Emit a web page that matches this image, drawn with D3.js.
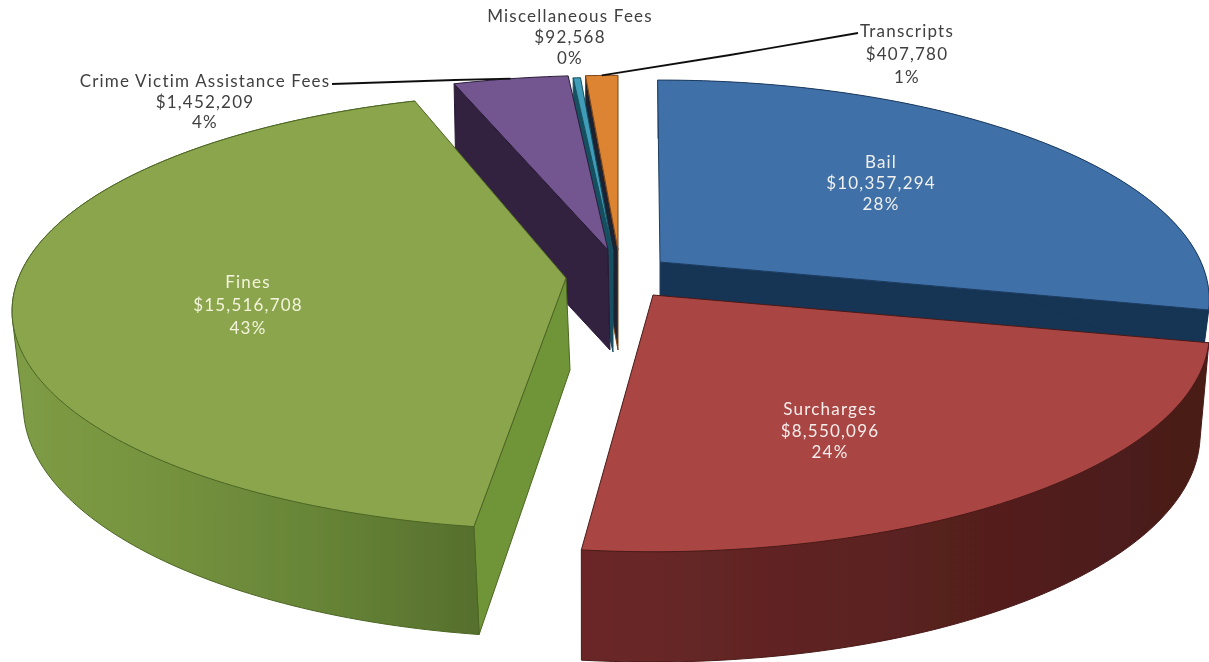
<!DOCTYPE html>
<html><head><meta charset="utf-8">
<script src="https://cdn.jsdelivr.net/npm/d3@7"></script>
<style>html,body{margin:0;padding:0;background:#fff;overflow:hidden}svg{display:block}</style>
</head><body><svg id="c" width="1209" height="662"></svg>
<script>
const categories = ["Bail","Surcharges","Fines","Crime Victim Assistance Fees","Miscellaneous Fees","Transcripts"];
const values = [10357294,8550096,15516708,1452209,92568,407780];

const W=1209,H=662,Rx=541,Ry=213.4;
const deg=Math.PI/180;
const geom = [
 {cx:660,cy:262,p:.173,sx:1,sy:1,depth:62,bx:.985,by:1.02,bdx:0,da0:-.3,da1:0,face:"end",top:"#4070a8",cut:"#183454",wall:"#183454",edge:"#1c3c60"},
 {cx:653,cy:295,p:.173,sx:1.013,sy:.995,depth:100,bx:.985,by:1.04,bdx:-1,da0:0,da1:-.9,face:null,top:"#a94543",cut:"#5e2322",wall:"url(#gRed)",edge:"#4a1a18"},
 {cx:566,cy:278,p:.152,sx:1.012,sy:1,depth:92,bx:.987,by:1.064,bdx:4,da0:1.1,da1:.9,face:"start",top:"#8ba54e",cut:"#6f9438",wall:"url(#gGreen)",edge:"#4c6623"},
 {cx:608,cy:250,p:.173,sx:1,sy:.96,depth:100,bx:1,by:1,bdx:2,da0:0,da1:0,face:"start",top:"#73548f",cut:"#30203f",wall:null,edge:"#2a1c38"},
 {cx:613,cy:252,p:.173,sx:1,sy:.96,depth:100,bx:1,by:1,bdx:0,da0:0,da1:0,face:"start",top:"#3f9cb8",cut:"#17505f",wall:null,edge:"#17505f"},
 {cx:618,cy:250,p:.173,sx:1,sy:.96,depth:100,bx:1,by:1,bdx:0,da0:0,da1:0,face:"start",top:"#dc8433",cut:"#1f2230",wall:null,edge:"#7a4416"}
];
const labelPos = [
 {x:881,y:163,c:"#f0f0ee",step:21},{x:830,y:410,c:"#f6eeec",step:21.5},{x:248,y:283,c:"#f4f4dc",step:23},
 {x:205,y:82,c:"#404040",step:20.5},{x:570,y:17,c:"#404040",step:21},{x:907,y:32,c:"#404040",step:23}
];
const drawOrder=[5,4,3,0,1,2];
const total=d3.sum(values);
const arcs=d3.pie().sort(null).value(d=>d)(values);

function proj(a,g,bottom){
  const X=Math.sin(a),Y=-Math.cos(a),w=1/(1-g.p*Y);
  return [g.cx+(bottom?g.bdx:0)+X*Rx*g.sx*w*(bottom?g.bx:1),
          g.cy+(bottom?g.depth:0)+Y*Ry*g.sy*w*(bottom?g.by:1)];
}
function rim(arc,g,bottom){
  const a0=arc.startAngle+g.da0*deg,a1=arc.endAngle+g.da1*deg;
  const n=Math.max(2,Math.ceil((a1-a0)*60));
  return d3.range(n+1).map(i=>proj(a0+(a1-a0)*i/n,g,bottom));
}
const line=d3.line();
const svg=d3.select("#c");
const defs=svg.append("defs");
defs.append("filter").attr("id","soft").attr("x",0).attr("y",0).attr("width",1).attr("height",1)
  .attr("filterUnits","objectBoundingBox")
  .append("feGaussianBlur").attr("stdDeviation",.55);
function grad(id,x1,x2,stops){
  const g=defs.append("linearGradient").attr("id",id).attr("gradientUnits","userSpaceOnUse")
    .attr("x1",x1).attr("x2",x2).attr("y1",0).attr("y2",0);
  stops.forEach(s=>g.append("stop").attr("offset",s[0]).attr("stop-color",s[1]));
}
grad("gGreen",10,480,[[0,"#7f9c45"],[.3,"#76933f"],[.65,"#678537"],[1,"#566f2d"]]);
grad("gRed",580,1209,[[0,"#6b2828"],[.5,"#5a2120"],[1,"#481a18"]]);

const root=svg.append("g").attr("filter","url(#soft)");
root.append("rect").attr("width",W).attr("height",H).attr("fill","#fff");

const slices=root.selectAll("g.slice").data(drawOrder).join("g").attr("class","slice");
slices.each(function(i){
  const sel=d3.select(this),arc=arcs[i],g=geom[i];
  const t=rim(arc,g,false),b=rim(arc,g,true);
  const apexT=[g.cx,g.cy],apexB=[g.cx+g.bdx,g.cy+g.depth];
  if(g.face){
    const k=g.face==="start"?0:t.length-1;
    sel.append("path").attr("d",line([apexT,t[k],b[k],apexB])+"Z")
      .attr("fill",g.cut).attr("stroke",g.edge).attr("stroke-width",1);
  }
  if(g.wall){
    sel.append("path").attr("d",line(d3.polygonHull(t.concat(b)))+"Z")
      .attr("fill",g.wall).attr("stroke",g.wall.startsWith("url")?g.edge:"none").attr("stroke-width",1);
  }
  sel.append("path").attr("d",line([apexT,...t])+"Z")
    .attr("fill",g.top).attr("stroke",g.edge).attr("stroke-width",1);
});

function mid(i){const a=arcs[i];return proj((a.startAngle+a.endAngle)/2,geom[i],false);}
const leaders=[
 [[332,84],[455,80],mid(3)],
 [[858,33],[730,55],mid(5)]
];
root.selectAll("path.leader").data(leaders).join("path").attr("class","leader")
  .attr("d",d=>line(d)).attr("fill","none").attr("stroke","#111").attr("stroke-width",1.8);

const fmt=d3.format("$,"),pct=d3.format(".0%");
const lab=root.selectAll("text").data(categories).join("text")
  .attr("text-anchor","middle")
  .style("font-family","Lato, 'Open Sans', sans-serif").style("font-size","17px").style("letter-spacing","1.2px")
  .attr("fill",(d,i)=>labelPos[i].c);
lab.each(function(d,i){
  const p=labelPos[i],s=d3.select(this);
  [d,fmt(values[i]),pct(values[i]/total)].forEach((txt,k)=>{
    s.append("tspan").attr("x",p.x).attr("y",p.y+5+k*p.step).text(txt);
  });
});
</script></body></html>
